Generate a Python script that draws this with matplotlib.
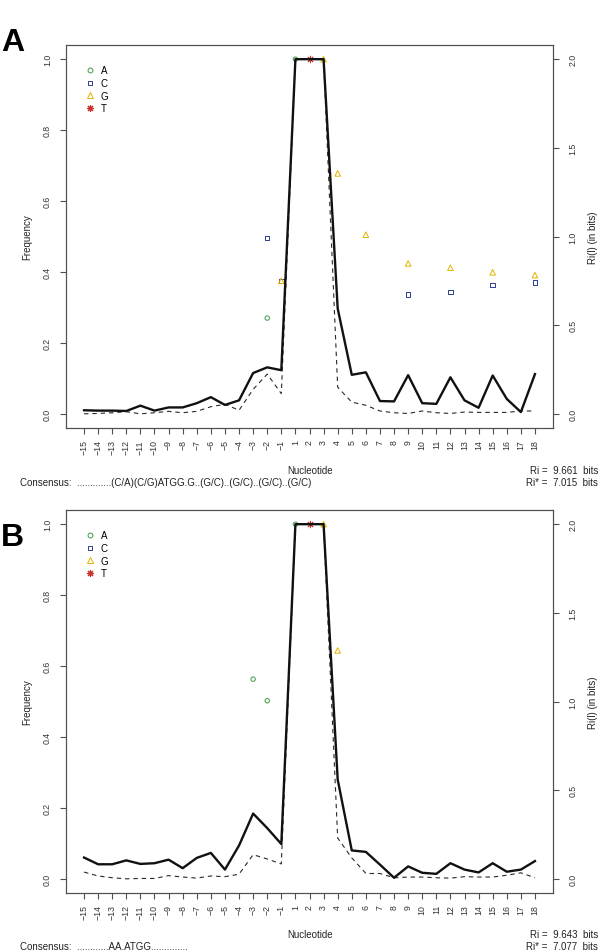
import matplotlib
matplotlib.use("Agg")
import matplotlib.pyplot as plt
from matplotlib.lines import Line2D

plt.rcParams["font.family"] = ["Liberation Sans", "DejaVu Sans"]

# ── Data ──────────────────────────────────────────────────────
positions = list(range(-15, 0)) + list(range(1, 19))
pos_labels = [str(p).replace("-", "\u2212") for p in positions]

# Panel A: Ri(l) in bits (solid) and frequency (dashed)
ri_bits_a = [0.020, 0.018, 0.018, 0.016, 0.046, 0.018, 0.036, 0.036, 0.060, 0.094,
             0.050, 0.076, 0.230, 0.262, 0.246, 2.0, 2.0, 2.0, 0.594, 0.220,
             0.234, 0.072, 0.070, 0.218, 0.060, 0.056, 0.206, 0.076, 0.034, 0.216,
             0.084, 0.010, 0.224]
freq_a = [0.000, 0.001, 0.003, 0.006, 0.000, 0.003, 0.007, 0.003, 0.007, 0.020,
          0.027, 0.010, 0.069, 0.112, 0.057, 1.0, 1.0, 1.0, 0.075, 0.033,
          0.024, 0.008, 0.003, 0.001, 0.008, 0.003, 0.001, 0.005, 0.004, 0.004,
          0.004, 0.008, 0.008]

# Panel B
ri_bits_b = [0.120, 0.082, 0.082, 0.104, 0.084, 0.088, 0.108, 0.060, 0.118, 0.146,
             0.052, 0.188, 0.368, 0.286, 0.196, 2.0, 2.0, 2.0, 0.560, 0.160,
             0.152, 0.080, 0.006, 0.070, 0.034, 0.028, 0.088, 0.052, 0.036, 0.088,
             0.040, 0.052, 0.100]
freq_b = [0.019, 0.008, 0.003, 0.000, 0.001, 0.001, 0.009, 0.005, 0.002, 0.008,
          0.006, 0.013, 0.068, 0.056, 0.042, 1.0, 1.0, 1.0, 0.115, 0.059,
          0.015, 0.015, 0.003, 0.005, 0.005, 0.003, 0.002, 0.006, 0.005, 0.005,
          0.010, 0.017, 0.003]

# nucleotide frequency points (position, frequency)
a_pos_a, a_val_a = [-2, 1], [0.270, 1.0]
c_pos_a, c_val_a = [-2, -1, 9, 12, 15, 18], [0.495, 0.375, 0.337, 0.344, 0.364, 0.370]
g_pos_a, g_val_a = [-1, 3, 4, 6, 9, 12, 15, 18], [0.375, 1.0, 0.678, 0.505, 0.424, 0.412, 0.399, 0.391]
t_pos_a, t_val_a = [2], [1.0]

a_pos_b, a_val_b = [-3, -2, 1], [0.563, 0.502, 1.0]
c_pos_b, c_val_b = [], []
g_pos_b, g_val_b = [3, 4], [1.0, 0.644]
t_pos_b, t_val_b = [2], [1.0]

consensus_a = "Consensus:  ............." + "(C/A)(C/G)ATGG.G..(G/C)..(G/C)..(G/C)..(G/C)"
consensus_b = "Consensus:  ............" + "AA.ATGG.............."
ri_a, ri_star_a = "9.661", "7.015"
ri_b, ri_star_b = "9.643", "7.077"

# ── Styles ────────────────────────────────────────────────────
col_a = "#3f9a45"
col_c = "#2b3c91"
col_g = "#e3b400"
col_t = "#c8302a"
frame_col = "#505050"


def idx(p):
    return p + 15 if p < 0 else p + 14


def draw_panel(ax, ri_bits, freq, pts, consensus, ri, ri_star, y_top):
    x = list(range(len(positions)))
    ax2 = ax.twinx()

    ax.plot(x, freq, color="#2a2a2a", lw=0.8, ls=(0, (4, 3.5)), zorder=2)
    ax2.plot(x, ri_bits, color="#111111", lw=1.7, zorder=3)

    (ap, av), (cp, cv), (gp, gv), (tp, tv) = pts
    ax.scatter([idx(p) for p in ap], av, marker="o", s=10, facecolors="none",
               edgecolors=col_a, linewidths=0.7, zorder=4)
    ax.scatter([idx(p) for p in cp], cv, marker="s", s=10, facecolors="none",
               edgecolors=col_c, linewidths=0.7, zorder=4)
    ax.scatter([idx(p) for p in gp], gv, marker="^", s=16, facecolors="none",
               edgecolors=col_g, linewidths=0.7, zorder=4)
    ax.scatter([idx(p) for p in tp], tv, marker=(8, 2, 0), s=22,
               color=col_t, linewidths=0.7, zorder=5)

    ax.set_xlim(-1.28, len(positions) - 1 + 1.28)
    ax.set_ylim(-0.04, 1.04)
    ax2.set_ylim(-0.08, 2.08)

    ax.set_xticks(x)
    ax.set_xticklabels(pos_labels)
    ax.set_yticks([0, 0.2, 0.4, 0.6, 0.8, 1.0])
    ax.set_yticklabels(["0.0", "0.2", "0.4", "0.6", "0.8", "1.0"])
    ax2.set_yticks([0, 0.5, 1.0, 1.5, 2.0])
    ax2.set_yticklabels(["0.0", "0.5", "1.0", "1.5", "2.0"])

    ax.tick_params(axis="x", labelrotation=90, labelsize=6.3, length=4, pad=4,
                   color=frame_col, labelcolor="#333333")
    ax.tick_params(axis="y", labelrotation=90, labelsize=6.3, length=4, pad=6,
                   color=frame_col, labelcolor="#333333")
    ax2.tick_params(axis="y", labelrotation=90, labelsize=6.3, length=4, pad=7,
                    color=frame_col, labelcolor="#333333")
    for lab in ax.get_yticklabels() + ax2.get_yticklabels():
        lab.set_va("center")
    for a in (ax, ax2):
        for s in a.spines.values():
            s.set_color(frame_col)
            s.set_linewidth(0.8)

    handles = [
        Line2D([], [], ls="none", marker="o", mfc="none", mec=col_a, ms=3.5, mew=0.7),
        Line2D([], [], ls="none", marker="s", mfc="none", mec=col_c, ms=3.5, mew=0.7),
        Line2D([], [], ls="none", marker="^", mfc="none", mec=col_g, ms=4, mew=0.7),
        Line2D([], [], ls="none", marker=(8, 2, 0), color=col_t, ms=5, mew=0.8),
    ]
    ax2.legend(handles, ["A", "C", "G", "T"], loc="upper left",
               bbox_to_anchor=(0.025, 0.965), frameon=False, fontsize=7,
               handlelength=1.0, handletextpad=0.6, labelspacing=0.28,
               borderpad=0.2)

    ax.set_ylabel("Frequency", fontsize=7, color="#222222")
    ax.yaxis.set_label_coords(-0.07, 0.5)
    ax2.set_ylabel("Ri(l) (in bits)", fontsize=7, color="#222222")
    ax2.yaxis.set_label_coords(1.072, 0.5)

    fig.text(310 / 600, 1 - y_top / 953, "Nucleotide", fontsize=7,
             ha="center", va="center", color="#222222")
    fig.text(20 / 600, 1 - (y_top + 12) / 953, consensus, fontsize=7,
             ha="left", va="center", color="#222222")
    fig.text(598 / 600, 1 - y_top / 953, f"Ri =  {ri}  bits", fontsize=7,
             ha="right", va="center", color="#222222")
    fig.text(598 / 600, 1 - (y_top + 12) / 953, f"Ri* =  {ri_star}  bits", fontsize=7,
             ha="right", va="center", color="#222222")
    return ax2


fig = plt.figure(figsize=(6.0, 9.53), dpi=100)
ax_a = fig.add_axes([66 / 600, 1 - 429 / 953, 487 / 600, 383 / 953])
ax_b = fig.add_axes([66 / 600, 1 - 894 / 953, 487 / 600, 383 / 953])

draw_panel(ax_a, ri_bits_a, freq_a,
           [(a_pos_a, a_val_a), (c_pos_a, c_val_a), (g_pos_a, g_val_a), (t_pos_a, t_val_a)],
           consensus_a, ri_a, ri_star_a, 471)
draw_panel(ax_b, ri_bits_b, freq_b,
           [(a_pos_b, a_val_b), (c_pos_b, c_val_b), (g_pos_b, g_val_b), (t_pos_b, t_val_b)],
           consensus_b, ri_b, ri_star_b, 935)

fig.text(1 / 600, 1 - 43 / 953, "A", fontsize=23, fontweight="bold", ha="left", va="center")
fig.text(1 / 600, 1 - 538 / 953, "B", fontsize=23, fontweight="bold", ha="left", va="center")

plt.savefig("out.png", dpi=100)
